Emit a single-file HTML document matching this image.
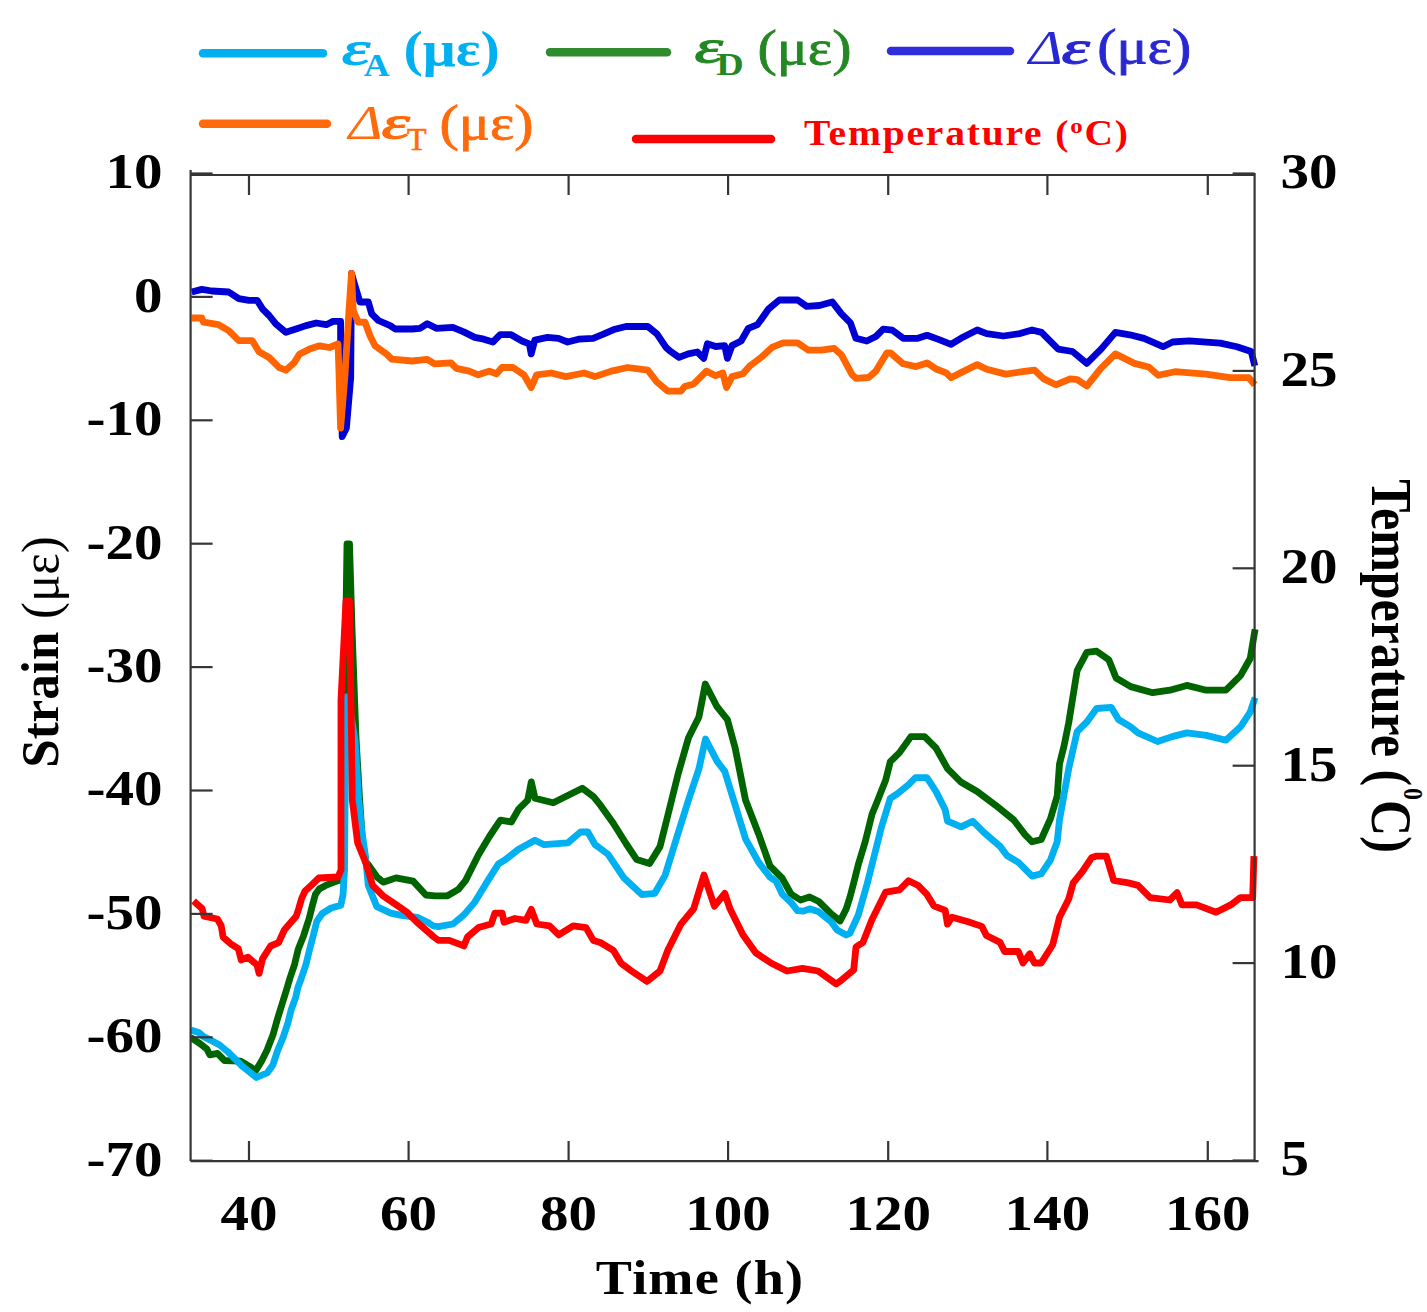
<!DOCTYPE html><html><head><meta charset="utf-8"><style>html,body{margin:0;padding:0;background:#fff;}svg{display:block;}text{font-family:"Liberation Serif",serif;}</style></head><body>
<svg width="1427" height="1312" viewBox="0 0 1427 1312">
<rect width="1427" height="1312" fill="#fff"/>
<polyline points="191.7,292.0 201.8,289.4 211.9,291.0 228.7,292.0 238.8,298.7 248.9,300.4 257.3,300.4 262.4,308.8 269.1,315.5 275.8,323.9 285.9,332.3 296.0,329.0 306.0,325.6 316.2,323.0 326.3,324.7 333.0,321.4 340.6,321.4 340.6,344.0 341.4,377.7 342.2,436.6 346.4,428.0 350.7,377.7 351.5,273.5 354.9,285.2 359.9,302.0 368.3,302.0 371.7,313.8 378.4,320.5 390.2,325.6 395.2,329.0 412.0,329.0 420.0,328.3 427.3,323.7 436.4,328.3 452.8,327.4 463.7,331.9 474.7,337.4 483.8,339.2 492.9,342.0 500.2,334.7 511.1,334.7 522.0,341.0 529.3,343.8 531.2,353.8 534.8,340.1 547.6,337.4 558.5,338.3 567.6,342.0 578.5,339.2 593.1,338.3 602.2,334.7 615.0,329.2 625.9,326.5 647.8,326.5 656.9,333.8 666.0,347.4 670.0,351.0 679.1,357.4 688.2,353.8 697.3,352.0 703.7,358.4 707.4,343.8 715.6,346.5 724.7,345.6 727.4,358.4 732.0,345.6 741.1,341.0 748.4,328.3 757.5,324.6 768.4,309.2 779.3,300.0 797.6,300.0 806.7,306.4 819.4,305.5 832.2,301.9 841.3,313.7 850.4,322.8 855.9,338.3 866.8,341.0 875.9,336.5 883.2,329.2 892.3,330.1 903.2,338.3 917.8,338.3 927.1,335.3 939.1,339.6 951.0,344.3 962.9,337.2 977.2,330.0 986.7,333.6 1003.4,336.0 1020.0,333.6 1032.0,330.0 1041.5,332.4 1058.2,349.1 1072.5,351.5 1086.8,363.4 1101.1,349.1 1115.4,332.4 1129.7,334.8 1144.0,338.4 1163.0,346.7 1172.6,342.0 1189.2,340.8 1220.2,343.1 1236.9,346.7 1251.2,351.5 1254.8,365.8" fill="none" stroke="#0000D4" stroke-width="6.8" stroke-linejoin="round" stroke-linecap="butt"/>
<polyline points="191.7,318.0 201.8,318.0 203.5,322.2 218.6,324.7 228.7,330.6 238.8,340.7 252.3,340.7 259.0,351.7 269.1,357.5 279.2,367.6 285.9,370.2 294.3,362.6 299.4,354.2 309.5,349.1 319.5,345.8 329.6,347.5 338.0,344.0 338.9,369.3 340.6,428.2 344.8,377.7 349.0,310.5 351.5,273.5 353.2,310.5 358.2,322.2 365.0,322.2 370.0,335.7 375.0,345.8 386.8,354.2 391.9,359.2 412.0,361.0 420.0,360.2 427.3,359.3 434.6,363.8 451.0,362.9 456.4,368.4 469.2,371.1 478.3,374.8 489.2,371.1 496.5,373.8 502.0,367.5 512.9,367.5 523.9,374.8 531.2,387.5 536.6,374.8 551.2,373.0 565.8,376.6 584.0,373.0 594.9,376.6 611.3,371.1 627.7,367.5 647.8,370.2 656.9,382.0 667.8,391.2 680.9,391.2 684.6,386.6 693.7,383.9 701.0,376.6 706.4,371.1 715.6,375.7 722.8,372.9 726.5,387.5 732.0,376.6 742.9,373.8 750.2,365.6 761.1,357.4 772.0,347.4 783.0,342.9 797.6,342.9 808.5,350.2 821.2,350.2 834.0,348.3 841.3,354.7 852.2,374.8 855.9,378.4 868.6,377.5 875.9,371.1 886.8,352.9 890.5,352.9 903.2,363.8 916.0,366.6 927.1,362.9 936.7,369.3 946.2,372.9 951.0,377.7 960.5,372.9 977.2,364.6 986.7,369.3 1005.8,374.1 1022.5,371.7 1034.4,370.1 1043.9,378.9 1055.8,384.8 1070.1,378.9 1077.3,379.6 1086.8,386.0 1101.1,368.2 1115.4,353.9 1124.9,358.6 1134.4,363.4 1148.7,367.0 1158.3,375.3 1175.0,371.7 1205.9,374.1 1229.8,377.7 1248.8,377.7 1254.8,384.8" fill="none" stroke="#FF6400" stroke-width="6.8" stroke-linejoin="round" stroke-linecap="butt"/>
<polyline points="190.8,1037.8 191.6,1038.0 200.0,1043.6 207.0,1049.2 209.8,1054.8 217.5,1053.4 224.5,1060.5 240.7,1061.2 249.1,1066.1 255.7,1070.6 261.4,1061.4 267.1,1050.0 272.9,1035.1 277.4,1019.1 282.0,1004.3 286.6,989.4 290.0,978.0 294.6,964.3 298.2,949.2 303.7,935.4 309.2,918.3 312.6,904.6 315.4,894.3 319.5,888.8 325.7,885.4 338.0,880.6 342.0,879.5 347.0,544.0 349.5,544.0 352.0,628.0 356.0,738.0 359.5,797.5 362.5,842.0 366.0,862.0 369.4,866.2 376.8,876.8 383.2,882.2 396.0,877.9 413.1,881.1 425.9,895.0 434.8,895.8 447.5,895.8 458.4,889.4 465.7,880.3 478.5,854.8 489.4,836.5 500.4,820.1 511.3,822.0 518.6,809.2 527.7,800.1 531.3,781.9 535.0,798.3 553.2,802.8 567.8,795.5 582.3,788.2 593.3,796.4 600.4,805.2 613.3,823.3 626.3,844.0 636.7,859.6 649.6,863.5 660.0,846.6 667.8,815.5 678.1,774.0 688.5,737.8 698.9,717.0 705.3,684.0 717.0,706.7 727.4,719.6 735.2,748.1 745.5,800.0 758.5,833.7 770.0,866.0 782.0,878.0 791.0,894.0 800.5,900.0 809.6,897.0 818.8,901.5 831.0,913.7 840.1,921.0 846.2,909.0 850.0,897.0 853.7,882.9 858.3,864.6 865.2,841.8 872.0,814.3 876.6,802.9 885.7,780.0 890.3,761.7 899.5,752.6 910.9,736.6 924.6,736.6 936.0,748.0 947.5,768.6 961.2,782.3 977.2,791.5 995.5,805.2 1013.8,820.0 1025.2,834.9 1032.1,841.8 1041.2,839.5 1050.4,818.9 1057.2,796.0 1059.5,764.0 1064.1,745.7 1068.7,722.9 1077.1,670.7 1086.8,652.4 1096.6,651.2 1108.8,659.8 1116.1,678.0 1130.7,686.6 1152.7,692.7 1169.8,690.2 1186.8,685.4 1206.3,690.2 1225.9,690.2 1240.5,675.6 1250.2,658.5 1255.1,629.3" fill="none" stroke="#006400" stroke-width="6.8" stroke-linejoin="round" stroke-linecap="butt"/>
<polyline points="190.8,1030.0 191.6,1030.3 198.6,1032.4 203.5,1036.6 210.5,1040.1 219.6,1045.0 228.0,1052.0 235.1,1059.0 242.1,1066.1 249.1,1071.7 256.5,1077.5 267.1,1072.9 272.9,1064.9 277.4,1051.1 283.1,1037.4 287.7,1023.7 291.1,1010.0 295.7,997.4 298.0,987.1 301.4,978.0 306.0,964.3 309.6,949.5 313.3,935.4 316.7,921.7 322.2,913.5 331.2,908.0 340.8,905.3 343.0,895.0 344.5,870.0 346.0,697.0 348.0,697.0 355.0,740.0 358.7,800.0 361.9,832.0 365.1,853.4 368.3,885.4 376.8,906.7 390.7,913.1 401.4,915.3 417.4,917.4 427.5,922.2 433.4,926.0 438.4,926.7 453.0,924.0 463.9,914.9 474.8,902.1 485.8,883.9 498.5,863.9 505.8,859.3 518.6,849.3 535.0,840.2 544.1,844.7 567.8,842.9 580.5,832.0 587.8,832.0 595.1,844.7 597.8,846.6 608.1,854.4 623.7,877.7 641.8,894.6 654.8,893.3 665.2,875.1 675.5,841.4 688.5,800.0 698.9,768.9 705.5,739.0 717.0,761.1 724.8,771.5 735.2,805.2 745.5,838.8 758.5,862.2 770.0,877.1 776.1,881.3 782.2,894.1 791.3,902.7 797.4,910.6 803.5,911.2 809.6,908.8 818.8,911.8 831.0,921.6 837.1,930.1 846.2,935.0 850.0,933.2 858.3,915.0 867.4,882.9 874.3,855.5 881.2,828.1 890.3,798.3 897.2,793.8 908.6,784.6 915.5,777.7 926.9,777.7 936.0,791.5 945.2,809.8 947.5,821.2 961.2,826.9 972.6,821.2 984.1,832.6 1000.1,846.4 1006.9,855.5 1018.4,862.4 1032.1,876.1 1041.2,873.8 1050.4,860.1 1057.2,841.8 1059.5,820.0 1068.7,768.6 1077.1,731.7 1086.8,722.0 1096.6,708.5 1111.2,707.3 1118.5,719.5 1130.7,726.8 1138.0,732.9 1157.6,741.5 1172.2,736.6 1186.8,732.9 1206.3,735.4 1225.9,740.2 1240.5,726.8 1250.2,712.2 1255.1,697.6" fill="none" stroke="#00B0F0" stroke-width="6.8" stroke-linejoin="round" stroke-linecap="butt"/>
<polyline points="193.6,901.0 202.1,908.6 204.0,916.2 217.4,919.0 221.2,925.7 223.1,937.1 230.7,943.8 238.3,948.6 241.2,960.0 247.9,957.1 257.0,965.0 259.1,973.4 262.6,958.6 270.6,946.0 278.6,942.6 284.3,930.0 291.4,921.7 296.2,916.2 298.9,908.0 301.7,898.4 305.1,890.9 311.9,884.7 318.8,878.0 338.0,877.0 341.0,870.0 341.0,700.0 346.0,601.0 349.5,601.0 351.0,700.0 352.3,800.0 357.6,842.7 366.2,864.0 372.6,885.4 383.2,896.0 396.0,904.6 406.7,912.0 417.4,922.7 427.5,931.3 433.4,936.6 438.4,940.4 449.3,940.4 463.9,945.9 467.6,936.8 478.5,927.6 491.2,924.0 494.9,913.1 502.2,913.1 504.0,922.2 514.9,918.5 525.9,920.4 531.3,909.4 536.8,924.0 549.5,925.8 558.7,934.9 573.2,925.8 586.0,927.6 593.3,940.4 600.4,942.5 613.3,950.3 621.1,963.3 631.5,971.0 647.0,981.4 660.0,971.0 667.8,950.3 680.7,924.4 693.7,908.8 704.0,875.1 714.4,906.2 724.8,893.3 730.0,908.8 742.9,934.8 755.9,952.9 771.4,963.3 787.0,971.0 802.5,968.4 818.1,971.0 836.2,984.0 840.0,981.3 853.7,969.8 856.0,947.0 862.9,942.4 872.0,919.5 885.7,892.1 899.5,889.8 908.6,880.7 917.8,885.2 926.9,894.4 933.8,905.8 945.2,910.4 947.5,924.1 952.0,917.2 968.1,921.8 981.8,926.4 986.4,935.5 1000.1,942.4 1004.6,951.5 1018.4,951.5 1023.0,963.0 1029.8,953.8 1034.4,963.0 1041.2,963.0 1052.7,944.7 1059.5,917.2 1068.7,899.0 1073.2,882.9 1082.4,871.5 1091.5,857.8 1096.6,856.1 1106.3,856.1 1113.7,880.5 1128.3,882.9 1138.0,885.4 1150.2,897.6 1169.8,900.0 1177.1,892.7 1182.0,904.9 1196.6,904.9 1216.1,912.2 1230.7,904.9 1240.5,897.6 1252.7,897.6 1253.9,856.1" fill="none" stroke="#FF0000" stroke-width="6.8" stroke-linejoin="round" stroke-linecap="butt"/>
<g stroke="#363636" stroke-width="2.2" fill="none">
<path d="M190.6,1161.1 V170.0 M190.6,175.0 H1254.6 M1254.6,173.0 V1161.1 M190.6,1161.1 H1258.6"/>
<path d="M249,175.0 v20 M249,1161.1 v-20"/>
<path d="M408.6,175.0 v20 M408.6,1161.1 v-20"/>
<path d="M568.6,175.0 v20 M568.6,1161.1 v-20"/>
<path d="M728.1,175.0 v20 M728.1,1161.1 v-20"/>
<path d="M888.2,175.0 v20 M888.2,1161.1 v-20"/>
<path d="M1047.4,175.0 v20 M1047.4,1161.1 v-20"/>
<path d="M1207.8,175.0 v20 M1207.8,1161.1 v-20"/>
<path d="M190.6,173.5 h22"/>
<path d="M190.6,296.9 h22"/>
<path d="M190.6,420.3 h22"/>
<path d="M190.6,543.7 h22"/>
<path d="M190.6,667.1 h22"/>
<path d="M190.6,790.5 h22"/>
<path d="M190.6,913.9 h22"/>
<path d="M190.6,1037.3 h22"/>
<path d="M190.6,1160.7 h22"/>
<path d="M1254.6,173.5 h-22"/>
<path d="M1254.6,370.9 h-22"/>
<path d="M1254.6,568.3 h-22"/>
<path d="M1254.6,765.7 h-22"/>
<path d="M1254.6,963.1 h-22"/>
<path d="M1254.6,1160.5 h-22"/>
</g>
<text transform="translate(249.0,1230.0) scale(1.13,1)" x="0" y="0" font-size="50.5" font-weight="bold" font-style="normal" fill="#000" text-anchor="middle" >40</text>
<text transform="translate(408.6,1230.0) scale(1.13,1)" x="0" y="0" font-size="50.5" font-weight="bold" font-style="normal" fill="#000" text-anchor="middle" >60</text>
<text transform="translate(568.6,1230.0) scale(1.13,1)" x="0" y="0" font-size="50.5" font-weight="bold" font-style="normal" fill="#000" text-anchor="middle" >80</text>
<text transform="translate(728.1,1230.0) scale(1.13,1)" x="0" y="0" font-size="50.5" font-weight="bold" font-style="normal" fill="#000" text-anchor="middle" >100</text>
<text transform="translate(888.2,1230.0) scale(1.13,1)" x="0" y="0" font-size="50.5" font-weight="bold" font-style="normal" fill="#000" text-anchor="middle" >120</text>
<text transform="translate(1047.4,1230.0) scale(1.13,1)" x="0" y="0" font-size="50.5" font-weight="bold" font-style="normal" fill="#000" text-anchor="middle" >140</text>
<text transform="translate(1207.8,1230.0) scale(1.13,1)" x="0" y="0" font-size="50.5" font-weight="bold" font-style="normal" fill="#000" text-anchor="middle" >160</text>
<text transform="translate(162.5,188.3) scale(1.13,1)" x="0" y="0" font-size="50.5" font-weight="bold" font-style="normal" fill="#000" text-anchor="end" >10</text>
<text transform="translate(162.5,311.7) scale(1.13,1)" x="0" y="0" font-size="50.5" font-weight="bold" font-style="normal" fill="#000" text-anchor="end" >0</text>
<text transform="translate(162.5,435.1) scale(1.13,1)" x="0" y="0" font-size="50.5" font-weight="bold" font-style="normal" fill="#000" text-anchor="end" >-10</text>
<text transform="translate(162.5,558.5) scale(1.13,1)" x="0" y="0" font-size="50.5" font-weight="bold" font-style="normal" fill="#000" text-anchor="end" >-20</text>
<text transform="translate(162.5,681.9) scale(1.13,1)" x="0" y="0" font-size="50.5" font-weight="bold" font-style="normal" fill="#000" text-anchor="end" >-30</text>
<text transform="translate(162.5,805.3) scale(1.13,1)" x="0" y="0" font-size="50.5" font-weight="bold" font-style="normal" fill="#000" text-anchor="end" >-40</text>
<text transform="translate(162.5,928.7) scale(1.13,1)" x="0" y="0" font-size="50.5" font-weight="bold" font-style="normal" fill="#000" text-anchor="end" >-50</text>
<text transform="translate(162.5,1052.1) scale(1.13,1)" x="0" y="0" font-size="50.5" font-weight="bold" font-style="normal" fill="#000" text-anchor="end" >-60</text>
<text transform="translate(162.5,1175.5) scale(1.13,1)" x="0" y="0" font-size="50.5" font-weight="bold" font-style="normal" fill="#000" text-anchor="end" >-70</text>
<text transform="translate(1280.5,188.3) scale(1.13,1)" x="0" y="0" font-size="50.5" font-weight="bold" font-style="normal" fill="#000" text-anchor="start" >30</text>
<text transform="translate(1280.5,385.7) scale(1.13,1)" x="0" y="0" font-size="50.5" font-weight="bold" font-style="normal" fill="#000" text-anchor="start" >25</text>
<text transform="translate(1280.5,583.1) scale(1.13,1)" x="0" y="0" font-size="50.5" font-weight="bold" font-style="normal" fill="#000" text-anchor="start" >20</text>
<text transform="translate(1280.5,780.5) scale(1.13,1)" x="0" y="0" font-size="50.5" font-weight="bold" font-style="normal" fill="#000" text-anchor="start" >15</text>
<text transform="translate(1280.5,977.9) scale(1.13,1)" x="0" y="0" font-size="50.5" font-weight="bold" font-style="normal" fill="#000" text-anchor="start" >10</text>
<text transform="translate(1280.5,1175.3) scale(1.13,1)" x="0" y="0" font-size="50.5" font-weight="bold" font-style="normal" fill="#000" text-anchor="start" >5</text>
<text transform="translate(700.0,1294.0) scale(1.13,1)" x="0" y="0" font-size="48" font-weight="bold" font-style="normal" fill="#000" text-anchor="middle" letter-spacing="1">Time (h)</text>
<text transform="translate(58,652) rotate(-90) scale(1,1.05)" font-size="51" font-weight="bold" text-anchor="middle">Strain <tspan font-weight="normal">(με)</tspan></text>
<text transform="translate(1372,666) rotate(90) scale(1,1.12)" font-size="50" font-weight="bold" text-anchor="middle">Temperature (<tspan font-size="24" dx="2" dy="-28.5">0</tspan><tspan dy="28.5">C)</tspan></text>
<line x1="203" y1="53.2" x2="323" y2="53.2" stroke="#00B0F0" stroke-width="8.5" stroke-linecap="round"/>
<line x1="550" y1="52.2" x2="667" y2="52.2" stroke="#2E8B2E" stroke-width="8.5" stroke-linecap="round"/>
<line x1="891" y1="51" x2="1010" y2="51" stroke="#2E2EDC" stroke-width="8.5" stroke-linecap="round"/>
<line x1="203" y1="123.7" x2="327" y2="123.7" stroke="#FF6A0A" stroke-width="8.5" stroke-linecap="round"/>
<line x1="636" y1="139.1" x2="771" y2="139.1" stroke="#FF0000" stroke-width="8.5" stroke-linecap="round"/>
<text transform="translate(341.7,64.9) scale(1.47,1)" font-size="49" font-weight="normal" font-style="italic" fill="#00B0F0" stroke="#00B0F0" stroke-width="1.1" letter-spacing="0">ε</text>
<text transform="translate(363.8,75.9) scale(1.12,1)" font-size="32" font-weight="bold" font-style="normal" fill="#00B0F0" letter-spacing="0">A</text>
<text transform="translate(403.5,65.7) scale(1.16,1)" font-size="50" font-weight="bold" font-style="normal" fill="#00B0F0" letter-spacing="0">(με)</text>
<text transform="translate(694.4,63.1) scale(1.47,1)" font-size="49" font-weight="normal" font-style="italic" fill="#238823" stroke="#238823" stroke-width="1.1" letter-spacing="0">ε</text>
<text transform="translate(716.2,75.0) scale(1.19,1)" font-size="32" font-weight="bold" font-style="normal" fill="#238823" letter-spacing="0">D</text>
<text transform="translate(757.4,64.8) scale(1.16,1)" font-size="50" font-weight="normal" font-style="normal" fill="#238823" stroke="#238823" stroke-width="0.8" letter-spacing="0">(με)</text>
<text transform="translate(1028.7,63.5) scale(1.18,1)" font-size="49" font-weight="normal" font-style="italic" fill="#2828D2" letter-spacing="0">Δ</text>
<text transform="translate(1061.4,63.5) scale(1.47,1)" font-size="49" font-weight="normal" font-style="italic" fill="#2828D2" stroke="#2828D2" stroke-width="1.1" letter-spacing="0">ε</text>
<text transform="translate(1097.2,64.0) scale(1.16,1)" font-size="50" font-weight="normal" font-style="normal" fill="#2828D2" stroke="#2828D2" stroke-width="0.8" letter-spacing="0">(με)</text>
<text transform="translate(348.6,139.3) scale(1.18,1)" font-size="49" font-weight="normal" font-style="italic" fill="#FF6A0A" letter-spacing="0">Δ</text>
<text transform="translate(381.5,139.3) scale(1.47,1)" font-size="49" font-weight="normal" font-style="italic" fill="#FF6A0A" stroke="#FF6A0A" stroke-width="1.1" letter-spacing="0">ε</text>
<text transform="translate(407.0,149.6) scale(1.0,1)" font-size="32" font-weight="normal" font-style="normal" fill="#FF6A0A" stroke="#FF6A0A" stroke-width="0.6" letter-spacing="0">T</text>
<text transform="translate(439.5,140.1) scale(1.16,1)" font-size="50" font-weight="normal" font-style="normal" fill="#FF6A0A" stroke="#FF6A0A" stroke-width="0.8" letter-spacing="0">(με)</text>
<text transform="translate(804,144.5) scale(1.13,1)" font-size="35" font-weight="bold" fill="#FF0000" letter-spacing="1.6">Temperature (<tspan font-size="22" dy="-12">o</tspan><tspan dy="12">C)</tspan></text>
</svg></body></html>
